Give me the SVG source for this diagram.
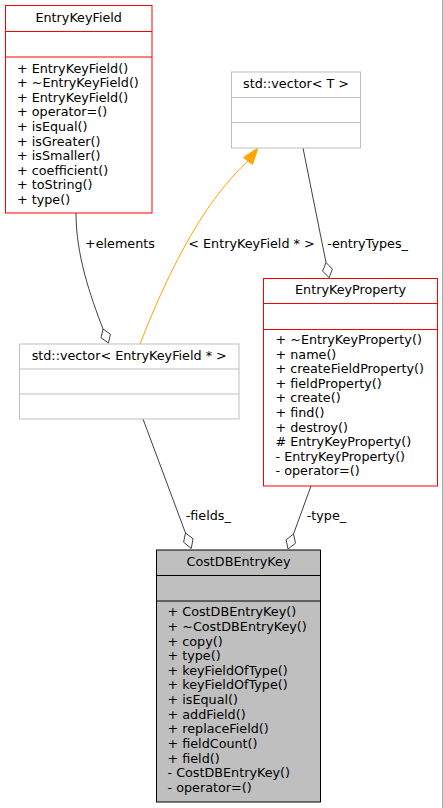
<svg xmlns="http://www.w3.org/2000/svg" width="443" height="808" viewBox="0 0 443 808">
<style>
text{font-family:"DejaVu Sans","Noto Sans",sans-serif;font-size:12.75px;fill:#000}
.t{text-anchor:middle}
.red{fill:#fff;stroke:#ff0000;stroke-width:1}
.gry{fill:#fff;stroke:#bfbfbf;stroke-width:1}
.main{fill:#bfbfbf;stroke:#000;stroke-width:1}
.e{fill:none;stroke:#404040;stroke-width:1}
.d{fill:#fff;stroke:#404040;stroke-width:1}
.o{fill:none;stroke:#ffa500;stroke-width:1}
</style>
<rect x="0" y="0" width="443" height="808" fill="#fff"/>
<line x1="442.5" y1="0" x2="442.5" y2="808" stroke="#a8a8a8" stroke-width="1"/>
<g id="connectors">
<path class="e" d="M76,213 C76,255 90,295 103,329"/>
<polygon class="d" points="103,329 110.4,334.2 108.4,343 101,337.8"/>
<text x="85" y="248">+elements</text>
<path class="o" d="M140,344 C165,280 200,205 248,161"/>
<polygon points="258,148 243.5,157.5 252.5,164.5" fill="#ffa500" stroke="#ffa500"/>
<text x="188.3" y="248">&lt; EntryKeyField * &gt;</text>
<path class="e" d="M303,148 L326,262.5"/>
<polygon class="d" points="326,262.5 332.4,269.1 329.1,277.7 322.6,271.1"/>
<text x="327.3" y="248">-entryTypes_</text>
<path class="e" d="M143,419 L185.5,533"/>
<polygon class="d" points="185.5,533 193,538.8 191.3,548.5 183.6,542.2"/>
<text x="185.7" y="520.2">-fields_</text>
<path class="e" d="M311,486 L293.5,534"/>
<polygon class="d" points="293.5,534 295.5,543.2 288,549 286.1,539.8"/>
<text x="306.7" y="520.2">-type_</text>
</g>
<g id="EntryKeyField">
<rect class="red" x="5.5" y="5.5" width="146.5" height="207.5"/>
<line class="red" x1="5.5" y1="31.5" x2="152" y2="31.5"/>
<line class="red" x1="5.5" y1="57" x2="152" y2="57"/>
<text class="t" x="78.7" y="21.5">EntryKeyField</text>
<text x="17" y="72.5">+ EntryKeyField()</text>
<text x="17" y="87.1">+ ~EntryKeyField()</text>
<text x="17" y="101.7">+ EntryKeyField()</text>
<text x="17" y="116.3">+ operator=()</text>
<text x="17" y="130.9">+ isEqual()</text>
<text x="17" y="145.5">+ isGreater()</text>
<text x="17" y="160.1">+ isSmaller()</text>
<text x="17" y="174.7">+ coefficient()</text>
<text x="17" y="189.3">+ toString()</text>
<text x="17" y="203.9">+ type()</text>
</g>
<g id="vectorT">
<rect class="gry" x="231.5" y="72" width="129" height="76"/>
<line class="gry" x1="231.5" y1="97.5" x2="360.5" y2="97.5"/>
<line class="gry" x1="231.5" y1="122.5" x2="360.5" y2="122.5"/>
<text class="t" x="296" y="87.5">std::vector&lt; T &gt;</text>
</g>
<g id="vectorEKF">
<rect class="gry" x="19.5" y="344" width="219.5" height="75"/>
<line class="gry" x1="19.5" y1="369" x2="239" y2="369"/>
<line class="gry" x1="19.5" y1="394" x2="239" y2="394"/>
<text class="t" x="129.2" y="359.5">std::vector&lt; EntryKeyField * &gt;</text>
</g>
<g id="EntryKeyProperty">
<rect class="red" x="263.5" y="278.5" width="174" height="207.5"/>
<line class="red" x1="263.5" y1="303.5" x2="437.5" y2="303.5"/>
<line class="red" x1="263.5" y1="329.5" x2="437.5" y2="329.5"/>
<text class="t" x="350.5" y="294">EntryKeyProperty</text>
<text x="275.5" y="344.2">+ ~EntryKeyProperty()</text>
<text x="275.5" y="358.8">+ name()</text>
<text x="275.5" y="373.3">+ createFieldProperty()</text>
<text x="275.5" y="387.9">+ fieldProperty()</text>
<text x="275.5" y="402.4">+ create()</text>
<text x="275.5" y="417">+ find()</text>
<text x="275.5" y="431.6">+ destroy()</text>
<text x="275.5" y="446.1"># EntryKeyProperty()</text>
<text x="275.5" y="460.7">- EntryKeyProperty()</text>
<text x="275.5" y="475.2">- operator=()</text>
</g>
<g id="CostDBEntryKey">
<rect class="main" x="156.5" y="550" width="164" height="252"/>
<line class="main" x1="156.5" y1="575.5" x2="320.5" y2="575.5"/>
<line class="main" x1="156.5" y1="601" x2="320.5" y2="601"/>
<text class="t" x="238.5" y="565.5">CostDBEntryKey</text>
<text x="167.5" y="616.2">+ CostDBEntryKey()</text>
<text x="167.5" y="630.8">+ ~CostDBEntryKey()</text>
<text x="167.5" y="645.5">+ copy()</text>
<text x="167.5" y="660.1">+ type()</text>
<text x="167.5" y="674.7">+ keyFieldOfType()</text>
<text x="167.5" y="689.4">+ keyFieldOfType()</text>
<text x="167.5" y="704">+ isEqual()</text>
<text x="167.5" y="718.6">+ addField()</text>
<text x="167.5" y="733.2">+ replaceField()</text>
<text x="167.5" y="747.9">+ fieldCount()</text>
<text x="167.5" y="762.5">+ field()</text>
<text x="167.5" y="777.1">- CostDBEntryKey()</text>
<text x="167.5" y="791.8">- operator=()</text>
</g>
</svg>
